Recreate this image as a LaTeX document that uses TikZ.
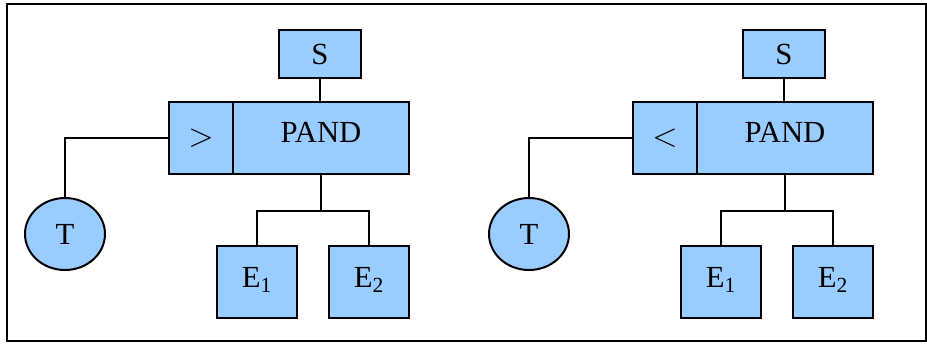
\documentclass[tikz,border=0pt]{standalone}
\usepackage{fontspec}
\setmainfont{Liberation Serif}
\usetikzlibrary{positioning, shapes.geometric}
\definecolor{cfill}{HTML}{99CCFF}
\tikzset{
  every picture/.style={line width=1.3pt},
  gate/.style={draw, fill=cfill, line width=1.5pt, inner sep=0pt, font=\fontsize{23}{27}\selectfont, minimum width=#1, minimum height=54pt},
  gate/.default=60pt,
  event/.style={ellipse, draw, fill=cfill, line width=1.5pt, inner sep=0pt, font=\fontsize{23}{27}\selectfont, minimum width=60pt, minimum height=54pt},
  wire/.style={draw, line width=1.3pt},
}

\begin{document}
\begin{tikzpicture}[x=0.75pt, y=-0.75pt]
  \useasboundingbox (0,0) rectangle (927,343);
  \draw[line width=1pt] (7,4) rectangle (926,341);
  \foreach \dx/\sym/\n in {0/>/a, 464/</b} {
    % priority-AND gate with its condition box
    \node[gate=48pt, font=\fontsize{30}{30}\selectfont] (cond\n) at (201+\dx,138) {$\sym$};
    \node[gate=132pt, text depth=8pt, right=-1.5pt of cond\n] (pand\n) {PAND};
    \node[gate=61.5pt, minimum height=36pt] (S\n) at (320+\dx,54) {S};
    \node[event] (T\n) at (65+\dx,234) {T};
    \node[gate, text depth=7pt] (Ea\n) at (257+\dx,282) {E\textsubscript{1}};
    \node[gate, text depth=7pt] (Eb\n) at (369+\dx,282) {E\textsubscript{2}};
    % connectors
    \draw[wire] (S\n) -- (S\n |- pand\n.north);
    \draw[wire] (T\n.north) |- (cond\n.west);
    \draw[wire] (pand\n.south) -- ++(0,36) coordinate (j\n);
    \draw[wire] (Ea\n.north) |- (j\n) -| (Eb\n.north);
  }
\end{tikzpicture}
\end{document}
